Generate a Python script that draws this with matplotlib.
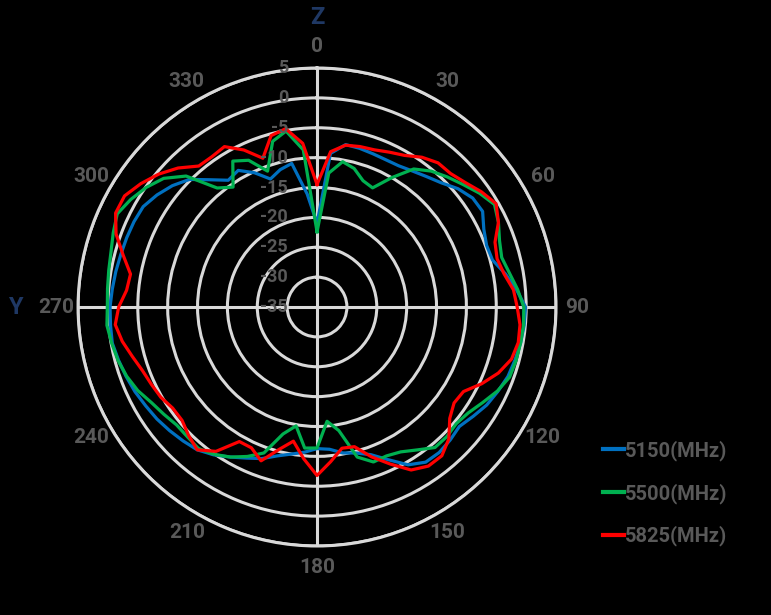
import numpy as np
import matplotlib
matplotlib.use('Agg')
import matplotlib.pyplot as plt
from matplotlib.transforms import offset_copy

# gain in dB at every 5 degrees (0 = Z axis, clockwise)
angles = np.arange(0, 360, 5)
gain_5150 = [-21.0, -9.2, -7.4, -7.5, -7.7, -7.8, -7.7, -7.2, -6.5, -5.6,
             -4.2, -3.2, -3.0, -4.2, -4.8, -4.6, -3.0, -1.5, -0.1, -0.2,
             -0.4, -0.7, -1.0, -1.6, -2.2, -3.1, -3.9, -3.5, -3.2, -3.3,
             -4.5, -6.8, -8.7, -9.7, -10.2, -11.1, -11.3, -10.6, -10.0, -9.2,
             -8.0, -7.1, -6.0, -4.8, -3.8, -3.3, -2.8, -2.3, -1.9, -1.4,
             -1.0, -0.6, -0.2, -0.3, -0.35, -0.6, -0.8, -1.0, -1.1, -1.2,
             -1.4, -2.3, -3.4, -4.8, -7.2, -9.1, -8.6, -10.2, -12.2, -11.2,
             -10.6, -16.0]
gain_5500 = [-22.4, -12.5, -10.3, -11.0, -12.5, -13.0, -10.0, -6.8, -5.3, -4.2,
             -3.1, -1.8, -0.7, -1.5, -2.5, -3.0, -2.3, -1.3, -0.4, -0.3,
             -0.4, -0.5, -0.7, -1.7, -3.0, -4.1, -4.6, -4.3, -4.3, -5.8,
             -7.0, -7.5, -7.4, -9.0, -14.0, -15.8, -11.4, -11.3, -14.8, -13.0,
             -9.0, -7.4, -6.0, -4.9, -4.1, -4.3, -4.3, -3.7, -3.0, -1.9,
             -1.1, -0.5, -0.1, 0.3, 0.1, 0.2, 0.4, 0.7, 1.3, 1.9,
             1.0, -0.1, -1.5, -4.0, -9.0, -10.5, -6.8, -7.9, -10.8, -6.3,
             -5.1, -8.6]
gain_5825 = [-14.5, -8.9, -7.5, -7.2, -7.0, -6.4, -5.7, -4.4, -3.5, -3.4,
             -2.6, -1.4, -0.4, -1.5, -3.3, -3.8, -3.2, -2.0, -1.5, -0.9,
             -0.8, -1.3, -2.7, -4.6, -6.7, -7.0, -6.0, -3.8, -2.5, -2.5,
             -3.5, -6.0, -8.3, -10.8, -11.0, -9.0, -6.8, -9.5, -12.2, -10.3,
             -7.6, -9.0, -9.0, -5.5, -3.8, -4.6, -5.5, -5.5, -4.8, -4.4,
             -3.9, -3.0, -1.9, -1.1, -1.8, -3.0, -3.3, -1.4, 0.8, 2.2,
             2.2, 1.0, -0.4, -2.1, -4.2, -4.3, -4.0, -6.0, -8.5, -5.3,
             -4.7, -7.5]

series_names = ['5150(MHz)', '5500(MHz)', '5825(MHz)']
series_colors = ['#0070C0', '#00B050', '#FF0000']
r_ticks = [5, 0, -5, -10, -15, -20, -25, -30, -35]
angle_labels = list(range(0, 360, 30))

text_gray = '#595959'
grid_gray = '#D9D9D9'
font = ['Roboto', 'DejaVu Sans']

fig = plt.figure(figsize=(7.71, 6.15), dpi=100, facecolor='black')
ax = fig.add_axes([0.1012, 0.1122, 0.620, 0.7772], projection='polar',
                  facecolor='black')
ax.set_theta_zero_location('N')
ax.set_theta_direction(-1)

theta = np.deg2rad(np.append(angles, angles[0]))
for vals, name, col in zip([gain_5150, gain_5500, gain_5825], series_names, series_colors):
    ax.plot(theta, np.append(vals, vals[0]), color=col, lw=2.3, label=name,
            zorder=3, solid_joinstyle='round')

ax.set_rlim(-35, 5)
ax.set_yticks(r_ticks[:-1])
ax.set_yticklabels([])
ax.set_xticks([])
ax.set_axisbelow(True)
ax.grid(axis='y', color=grid_gray, lw=2.2)
ax.spines['polar'].set_color(grid_gray)
ax.spines['polar'].set_linewidth(2.2)
for a in (0, 90, 180, 270):
    ax.axvline(np.deg2rad(a), color=grid_gray, lw=2.2, zorder=1)

# radial labels left of the vertical axis
trans = offset_copy(ax.transData, fig=fig, x=-29, y=0, units='dots')
for v in r_ticks:
    ax.text(0, v, str(v), transform=trans, ha='right', va='center',
            fontsize=13, fontweight='bold', color=text_gray, family=font, zorder=4)

# angle labels round the outside
for a in angle_labels:
    ax.text(np.deg2rad(a), 8.6, str(a), ha='center', va='center', clip_on=False,
            fontsize=15, fontweight='bold', color=text_gray, family=font)

fig.text(317 / 771, 1 - 18 / 615, 'Z', ha='center', va='center', fontsize=17,
         fontweight='bold', color='#1F3864', family=font)
fig.text(15 / 771, 1 - 307 / 615, 'Y', ha='center', va='center', fontsize=17,
         fontweight='bold', color='#1F3864', family=font)

leg = fig.legend(loc='upper left', bbox_to_anchor=(603 / 771, 1 - 440 / 615),
                 frameon=False, prop={'family': font, 'weight': 'bold', 'size': 14.5},
                 handlelength=1.05, handletextpad=0.05, labelspacing=1.1,
                 borderpad=0, borderaxespad=0)
for t in leg.get_texts():
    t.set_color(text_gray)
for h in leg.get_lines():
    h.set_linewidth(3)

fig.savefig('out.png', dpi=100, facecolor='black')
